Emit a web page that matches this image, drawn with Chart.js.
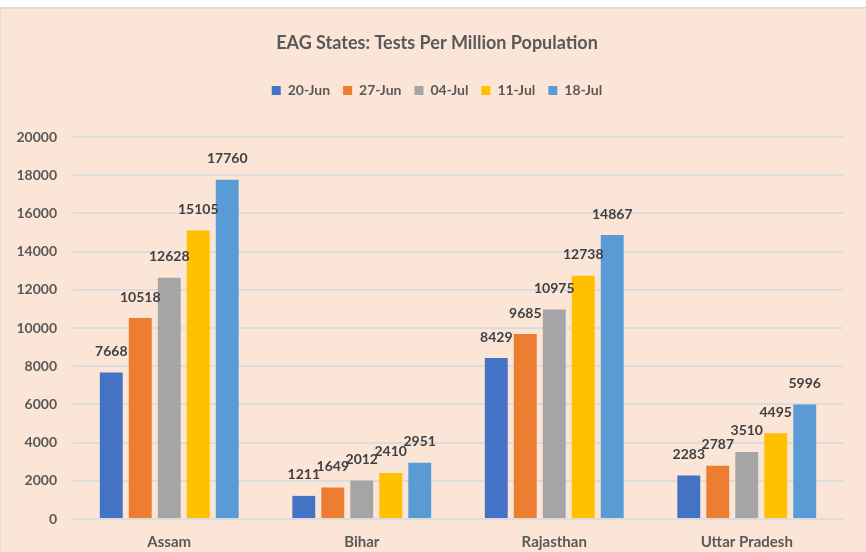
<!DOCTYPE html>
<html>
<head>
<meta charset="utf-8">
<script src="https://cdn.jsdelivr.net/npm/chart.js@4.4.1/dist/chart.umd.min.js"></script>
<style>
  html, body { margin: 0; padding: 0; background: #ffffff; }
  #wrap {
    position: absolute; left: 0; top: 7px; width: 866px; height: 545px;
    box-sizing: border-box; background: #fbe5d6;
    border-top: 2px solid #dcdcdc; border-left: 1px solid #dcdcdc;
  }
  #box { position: relative; width: 865px; height: 543px; }
</style>
</head>
<body>
<div id="wrap"><div id="box"><canvas id="chart"></canvas></div></div>
<script>
// states on the x axis
const states = ["Assam", "Bihar", "Rajasthan", "Uttar Pradesh"];
// one series per week
const weeks = ["20-Jun", "27-Jun", "04-Jul", "11-Jul", "18-Jul"];
const jun20 = [7668, 1211, 8429, 2283];
const jun27 = [10518, 1649, 9685, 2787];
const jul04 = [12628, 2012, 10975, 3510];
const jul11 = [15105, 2410, 12738, 4495];
const jul18 = [17760, 2951, 14867, 5996];
const colors = ["#4472c4", "#ed7d31", "#a5a5a5", "#ffc000", "#5b9bd5"];

const FONT = "Lato, 'Open Sans', sans-serif";
const series = [jun20, jun27, jul04, jul11, jul18];

// value labels above each bar
const barLabels = {
    id: "barLabels",
    afterDatasetsDraw(chart) {
        const ctx = chart.ctx;
        ctx.save();
        ctx.font = "bold 14px " + FONT;
        ctx.fillStyle = "#404040";
        ctx.textAlign = "center";
        ctx.textBaseline = "middle";
        chart.data.datasets.forEach((ds, i) => {
            chart.getDatasetMeta(i).data.forEach((bar, j) => {
                ctx.fillText(String(ds.data[j]), bar.x, bar.y - 21);
            });
        });
        ctx.restore();
    }
};

// give the legend a fixed height so the plot starts where it should
const legendHeight = {
    id: "legendHeight",
    beforeInit(chart) {
        const fit = chart.legend.fit;
        chart.legend.fit = function () {
            fit.bind(chart.legend)();
            this.height = 66.4;
        };
    },
    // title and legend sit a bit right of the canvas centre in the original
    afterLayout(chart) {
        [chart.titleBlock, chart.legend].forEach((b) => {
            b.left += 15;
            b.right += 15;
        });
    }
};

new Chart(document.getElementById("chart"), {
    type: "bar",
    data: {
        labels: states,
        datasets: weeks.map((w, i) => ({
            label: w,
            data: series[i],
            backgroundColor: colors[i],
            categoryPercentage: 0.753,
            barPercentage: 0.79
        }))
    },
    options: {
        responsive: true,
        maintainAspectRatio: false,
        animation: false,
        layout: { padding: { left: 0, right: 23, top: 0, bottom: 0 } },
        plugins: {
            title: {
                display: true,
                text: "EAG States: Tests Per Million Population",
                color: "#595959",
                font: { family: FONT, size: 18, weight: "bold" },
                padding: { top: 23, bottom: 17 }
            },
            legend: {
                position: "top",
                labels: {
                    boxWidth: 9,
                    boxHeight: 9,
                    padding: 13,
                    color: "#595959",
                    font: { family: FONT, size: 14, weight: "bold" }
                }
            },
            tooltip: { enabled: false }
        },
        scales: {
            x: {
                grid: { display: false, drawTicks: false },
                border: { display: false },
                ticks: {
                    color: "#595959",
                    padding: 14,
                    font: { family: FONT, size: 15, weight: "bold" }
                },
                afterFit(scale) { scale.height = 33; }
            },
            y: {
                min: 0,
                max: 20000,
                grid: { color: "#dcdcdc", lineWidth: 2, drawTicks: false },
                border: { display: false },
                ticks: {
                    stepSize: 2000,
                    color: "#595959",
                    padding: 16,
                    font: { family: FONT, size: 14, weight: "bold" },
                    callback: (v) => String(v)
                },
                afterFit(scale) { scale.width = 72; }
            }
        }
    },
    plugins: [barLabels, legendHeight]
});
</script>
</body>
</html>
